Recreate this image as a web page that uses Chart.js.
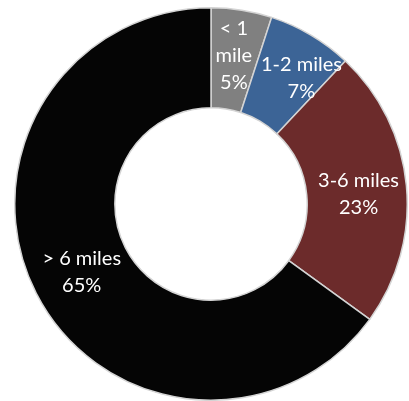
<!DOCTYPE html>
<html>
<head>
<meta charset="utf-8">
<script src="https://cdn.jsdelivr.net/npm/chart.js@4/dist/chart.umd.min.js"></script>
<style>
  html, body { margin: 0; padding: 0; background: #fff; }
  #wrap { width: 409px; height: 401px; }
</style>
</head>
<body>
<div id="wrap"><canvas id="myChart"></canvas></div>
<script>
const categories = [['< 1', 'mile'], ['1-2 miles'], ['3-6 miles'], ['> 6 miles']];
const shares = [5, 7, 23, 65];
const colours = ['#808080', '#3c6496', '#6c2b2b', '#050505'];

// small nudges so labels sit where the original put them
const labelNudge = [[0, -4], [16, 0], [2, 4], [1, 2]];

const sliceLabels = {
  id: 'sliceLabels',
  afterDatasetsDraw(chart) {
    const { ctx } = chart;
    const meta = chart.getDatasetMeta(0);
    const total = shares.reduce((a, b) => a + b, 0);
    ctx.save();
    ctx.fillStyle = '#ffffff';
    ctx.font = '20px Lato, "Noto Sans", sans-serif';
    ctx.textAlign = 'center';
    ctx.textBaseline = 'middle';
    meta.data.forEach((arc, i) => {
      const pos = arc.tooltipPosition();
      const pct = Math.round((shares[i] / total) * 100) + '%';
      const lines = [...categories[i], pct];
      const lineH = 27;
      const x = pos.x + labelNudge[i][0];
      const y0 = pos.y + labelNudge[i][1] - ((lines.length - 1) * lineH) / 2;
      lines.forEach((t, j) => ctx.fillText(t, x, y0 + j * lineH));
    });
    ctx.restore();
  },
};

const ctx = document.getElementById('myChart');

new Chart(ctx, {
  type: 'doughnut',
  data: {
    labels: categories.map((c) => c.join(' ')),
    datasets: [
      {
        data: shares,
        backgroundColor: colours,
        borderColor: '#d4d4d4',
        borderWidth: 1.5,
      },
    ],
  },
  options: {
    responsive: true,
    maintainAspectRatio: false,
    animation: false,
    cutout: '49%',
    layout: {
      padding: { left: 13, right: 0, top: 7, bottom: 0 },
    },
    plugins: {
      legend: { display: false },
      tooltip: { enabled: false },
    },
  },
  plugins: [sliceLabels],
});
</script>
</body>
</html>
